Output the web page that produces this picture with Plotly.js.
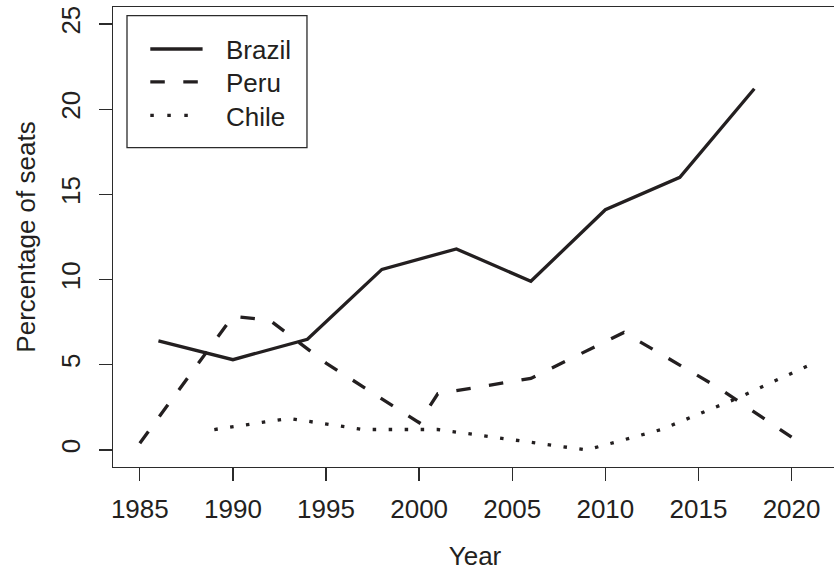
<!DOCTYPE html>
<html>
<head>
<meta charset="utf-8">
<script src="https://cdn.plot.ly/plotly-3.0.1.min.js"></script>
<style>
  html, body { margin: 0; padding: 0; overflow: hidden; background: #fff; }
  #chart { width: 840px; height: 571px; }
</style>
</head>
<body>
<div id="chart"></div>
<script>
// ---- data ----
const brazilYears = [1986, 1990, 1994, 1998, 2002, 2006, 2010, 2014, 2018];
const brazilValues = [6.4, 5.3, 6.5, 10.6, 11.8, 9.9, 14.1, 16.0, 21.2];

const peruYears = [1985, 1990, 1992, 1995, 2000, 2001, 2006, 2011, 2016, 2020];
const peruValues = [0.4, 7.85, 7.6, 5.1, 1.6, 3.3, 4.2, 6.9, 3.7, 0.75];

const chileYears = [1989, 1993, 1997, 2001, 2005, 2009, 2013, 2017, 2021];
const chileValues = [1.2, 1.85, 1.2, 1.2, 0.6, 0.0, 1.2, 3.0, 5.0];

const seriesNames = ['Brazil', 'Peru', 'Chile'];
const xTicks = [1985, 1990, 1995, 2000, 2005, 2010, 2015, 2020];
const yTicks = [0, 5, 10, 15, 20, 25];
const xTitle = 'Year';
const yTitle = 'Percentage of seats';

// ---- styling ----
const ink = '#231f20';
const axisInk = '#2b2b2b';
const font = 'Liberation Sans, Arial, Helvetica, sans-serif';
const lw = 3.3;
const dashes = ['solid', '14.5px,18.5px', '3.5px,12.5px'];

const W = 840, H = 571;
const M = { l: 112.7, r: 3.2, t: 6.7, b: 104.3 };
const plotW = W - M.l - M.r, plotH = H - M.t - M.b;
const px = x => (x - M.l) / plotW;
const py = y => 1 - (y - M.t) / plotH;

const traces = [
  { x: brazilYears, y: brazilValues, name: seriesNames[0], dash: dashes[0] },
  { x: peruYears, y: peruValues, name: seriesNames[1], dash: dashes[1] },
  { x: chileYears, y: chileValues, name: seriesNames[2], dash: dashes[2] }
].map(s => ({
  type: 'scatter', mode: 'lines', x: s.x, y: s.y, name: s.name,
  line: { color: ink, width: lw, dash: s.dash },
  showlegend: false, hoverinfo: 'skip'
}));

// legend drawn as a framed key in the upper-left corner
const legendRows = [48.7, 81.5, 115];
const legendTextRows = [49.7, 83.0, 116.3];
const shapes = [{
  type: 'rect', xref: 'paper', yref: 'paper',
  x0: px(126.7), x1: px(306.7), y0: py(147.3), y1: py(15.3),
  line: { color: axisInk, width: 1.3 }, fillcolor: 'rgba(0,0,0,0)'
}];
const annotations = [];
seriesNames.forEach((name, i) => {
  shapes.push({
    type: 'line', xref: 'paper', yref: 'paper',
    x0: px(150), x1: px(i === 2 ? 200 : 202.3), y0: py(legendRows[i]), y1: py(legendRows[i]),
    line: { color: ink, width: lw, dash: i === 2 ? '3.5px,13.5px' : dashes[i] }
  });
  annotations.push({
    xref: 'paper', yref: 'paper', x: px(224), y: py(legendTextRows[i]),
    xanchor: 'left', yanchor: 'middle', showarrow: false, text: name,
    font: { family: font, size: 26, color: ink }
  });
});

const axisCommon = {
  showgrid: false, zeroline: false, showline: true, mirror: true,
  linecolor: axisInk, linewidth: 1.3,
  ticks: 'outside', ticklen: 13, tickwidth: 1.3, tickcolor: axisInk,
  tickfont: { family: font, size: 26, color: ink }
};

const layout = {
  width: W, height: H, margin: M,
  paper_bgcolor: '#fff', plot_bgcolor: '#fff',
  font: { family: font, size: 26, color: ink },
  xaxis: Object.assign({}, axisCommon, {
    range: [1983.56, 2022.44], tickmode: 'array', tickvals: xTicks,
    ticktext: xTicks.map(String), ticklabelstandoff: 5,
    title: { text: xTitle, font: { family: font, size: 26, color: ink }, standoff: 26 }
  }),
  yaxis: Object.assign({}, axisCommon, {
    range: [-1, 26], tickmode: 'array', tickvals: yTicks,
    ticktext: yTicks.map(String), tickangle: -90, ticklabelstandoff: 8,
    title: { text: yTitle, font: { family: font, size: 26, color: ink }, standoff: 13 }
  }),
  shapes: shapes,
  annotations: annotations,
  showlegend: false
};

Plotly.newPlot('chart', traces, layout, { staticPlot: true, displayModeBar: false });
</script>
</body>
</html>
